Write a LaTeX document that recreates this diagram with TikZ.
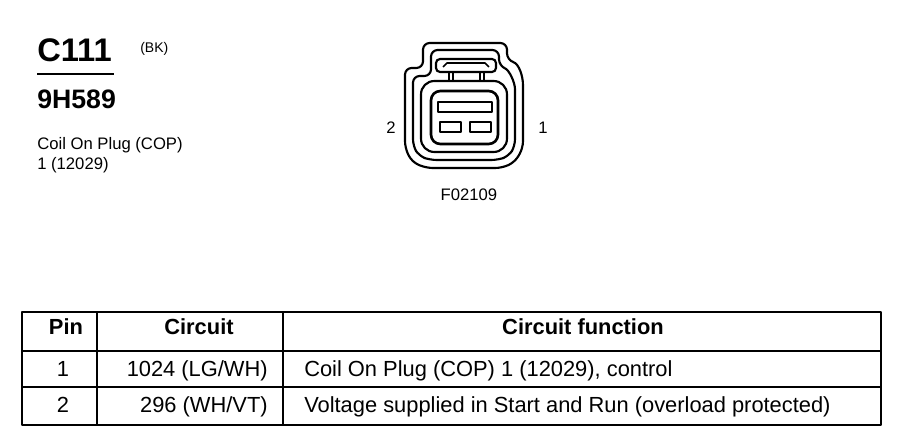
\documentclass[tikz,border=0pt]{standalone}
\usepackage{fontspec}
\setmainfont{Liberation Sans}
\usetikzlibrary{calc}

\begin{document}
\begin{tikzpicture}[x=0.75pt,y=-0.75pt,line join=round,
    wall/.style={line width=1.6pt, rounded corners=5},
    grid/.style={line width=1.5pt},
    lbl/.style={inner sep=0pt, anchor=base west, font=\fontsize{12.5}{15}\selectfont},
    cell/.style={inner sep=0pt, anchor=base, font=\fontsize{16.4}{19}\selectfont},
    headcell/.style={cell, font=\fontsize{16.4}{19}\selectfont\bfseries}]
      \useasboundingbox (0,0) rectangle (900,448);
      % title block
      \node[lbl, font=\fontsize{24.5}{28}\selectfont\bfseries] (c111) at (37,62) {C111};
      \node[lbl, font=\fontsize{10.5}{12}\selectfont] (bk) at (140,53) {(BK)};
      \draw[line width=1.5pt] (37,74) -- (114,74);
      \node[lbl, font=\fontsize{20}{24}\selectfont\bfseries] (9h589) at (37,109) {9H589};
      \node[lbl] (cop) at (37,150) {Coil On Plug (COP)};
      \node[lbl] (cop1) at (37,170) {1 (12029)};
      % connector housing
      \draw[wall] (405,68) -- (423,68) -- (423,43) -- (507,43) -- (507,60)
        .. controls (519,64) and (523,76) .. (523,92) -- (523,148) -- (515,162)
        -- (502,168) -- (426,168) -- (412,162) -- (405,148) -- cycle;
      \draw[wall] (413,76) -- (431,76) -- (431,50) -- (499,50) -- (499,66)
        .. controls (509,70) and (515,82) .. (515,96) -- (515,146) -- (509,156)
        -- (498,160) -- (430,160) -- (419,156) -- (413,146) -- cycle;
      % cavity and terminal block
      \draw[wall, rounded corners=10] (421,81) rectangle (507,152);
      \draw[wall, line width=2pt, rounded corners=7] (431,91) rectangle (498,144);
      \draw[wall, rounded corners=0] (438,102) rectangle (492,112);
      \draw[wall, rounded corners=0] (440,122) rectangle (461,132);
      \draw[wall, rounded corners=0] (470,122) rectangle (491,132);
      % latch
      \draw[wall, rounded corners=3] (436,72) -- (436,59) -- (496,59) -- (496,72) -- cycle;
      \draw[line width=1.2pt] (443,67) -- (447,63) -- (485,63) -- (489,67);
      \draw[line width=1.2pt] (449,72) -- (449,81) (453,72) -- (453,81)
        (480,72) -- (480,81) (484,72) -- (484,81);
      % pin numbers
      \node[lbl, anchor=center] (p2) at (391,128) {2};
      \node[lbl, anchor=center] (p1) at (543,128) {1};
      \node[lbl, anchor=center] (fig) at (469,195) {F02109};
      % table lines
      \draw[grid] (22,312) rectangle (881,425);
      \draw[grid] (22,351) -- (881,351);
      \draw[grid] (22,387) -- (881,387);
      \draw[grid] (97,312) -- (97,425);
      \draw[grid] (283,312) -- (283,425);
      % header
      \node[headcell] (hpin) at (66,335) {Pin};
      \node[headcell] (hcirc) at (199,335) {Circuit};
      \node[headcell] (hfunc) at (583,335) {Circuit function};
      % rows
      \node[cell] (pin1) at (63,377) {1};
      \node[cell, anchor=base east] (circ1) at (268,377) {1024 (LG/WH)};
      \node[cell, anchor=base west] (func1) at (304,377) {Coil On Plug (COP) 1 (12029), control};
      \node[cell] (pin2) at (63,413) {2};
      \node[cell, anchor=base east] (circ2) at (268,413) {296 (WH/VT)};
      \node[cell, anchor=base west] (func2) at (304,413) {Voltage supplied in Start and Run (overload protected)};
    \end{tikzpicture}
\end{document}
